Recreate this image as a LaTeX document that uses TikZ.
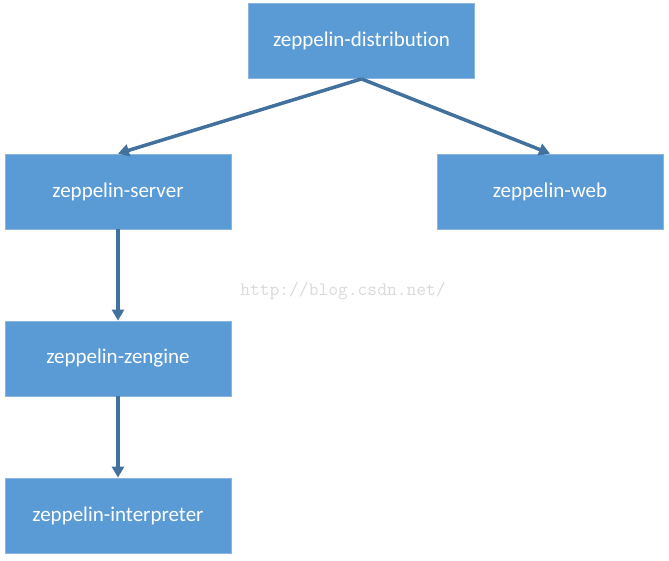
\documentclass[tikz,border=0pt]{standalone}
\usepackage{fontspec}
\setmainfont[Ligatures=NoCommon]{Carlito}
\usepackage{xcolor}
\usetikzlibrary{arrows.meta}

\definecolor{boxfill}{HTML}{5B9BD5}
\definecolor{boxline}{HTML}{8DB4E0}
\definecolor{linkcol}{HTML}{41719C}
\definecolor{markcol}{HTML}{DADADA}

\begin{document}
\begin{tikzpicture}[x=1pt,y=-1pt,
                    -{Triangle[width=12pt,length=11pt]},line width=3.5pt,
                    draw=linkcol]
  \tikzstyle{every node}=[font=\fontsize{21}{25}\selectfont]
  \tikzstyle{module}=[rectangle,fill=boxfill,draw=boxline,line width=0.8pt,
                      text=white,minimum width=226pt,minimum height=75pt,
                      inner sep=0pt]

  \useasboundingbox (0,0) rectangle (669,560);

  \node[module] (Distribution) at (361.5,41)  {zeppelin-distribution};
  \node[module] (Server)       at (118,191.5) {zeppelin-server};
  \node[module] (Web)          at (550,191.5) {zeppelin-web};
  \node[module] (Zengine)      at (118,358.5) {zeppelin-zengine};
  \node[module] (Interpreter)  at (118,515.5) {zeppelin-interpreter};

  \node (Mark) at (343,291) [text=markcol,font=\ttfamily\fontsize{19}{22}\selectfont]
        {http://blog.csdn.net/};

  \path (Distribution.south) edge (Server.north)
                             edge (Web.north)
        (Server)             edge (Zengine)
        (Zengine)            edge (Interpreter);
\end{tikzpicture}
\end{document}
